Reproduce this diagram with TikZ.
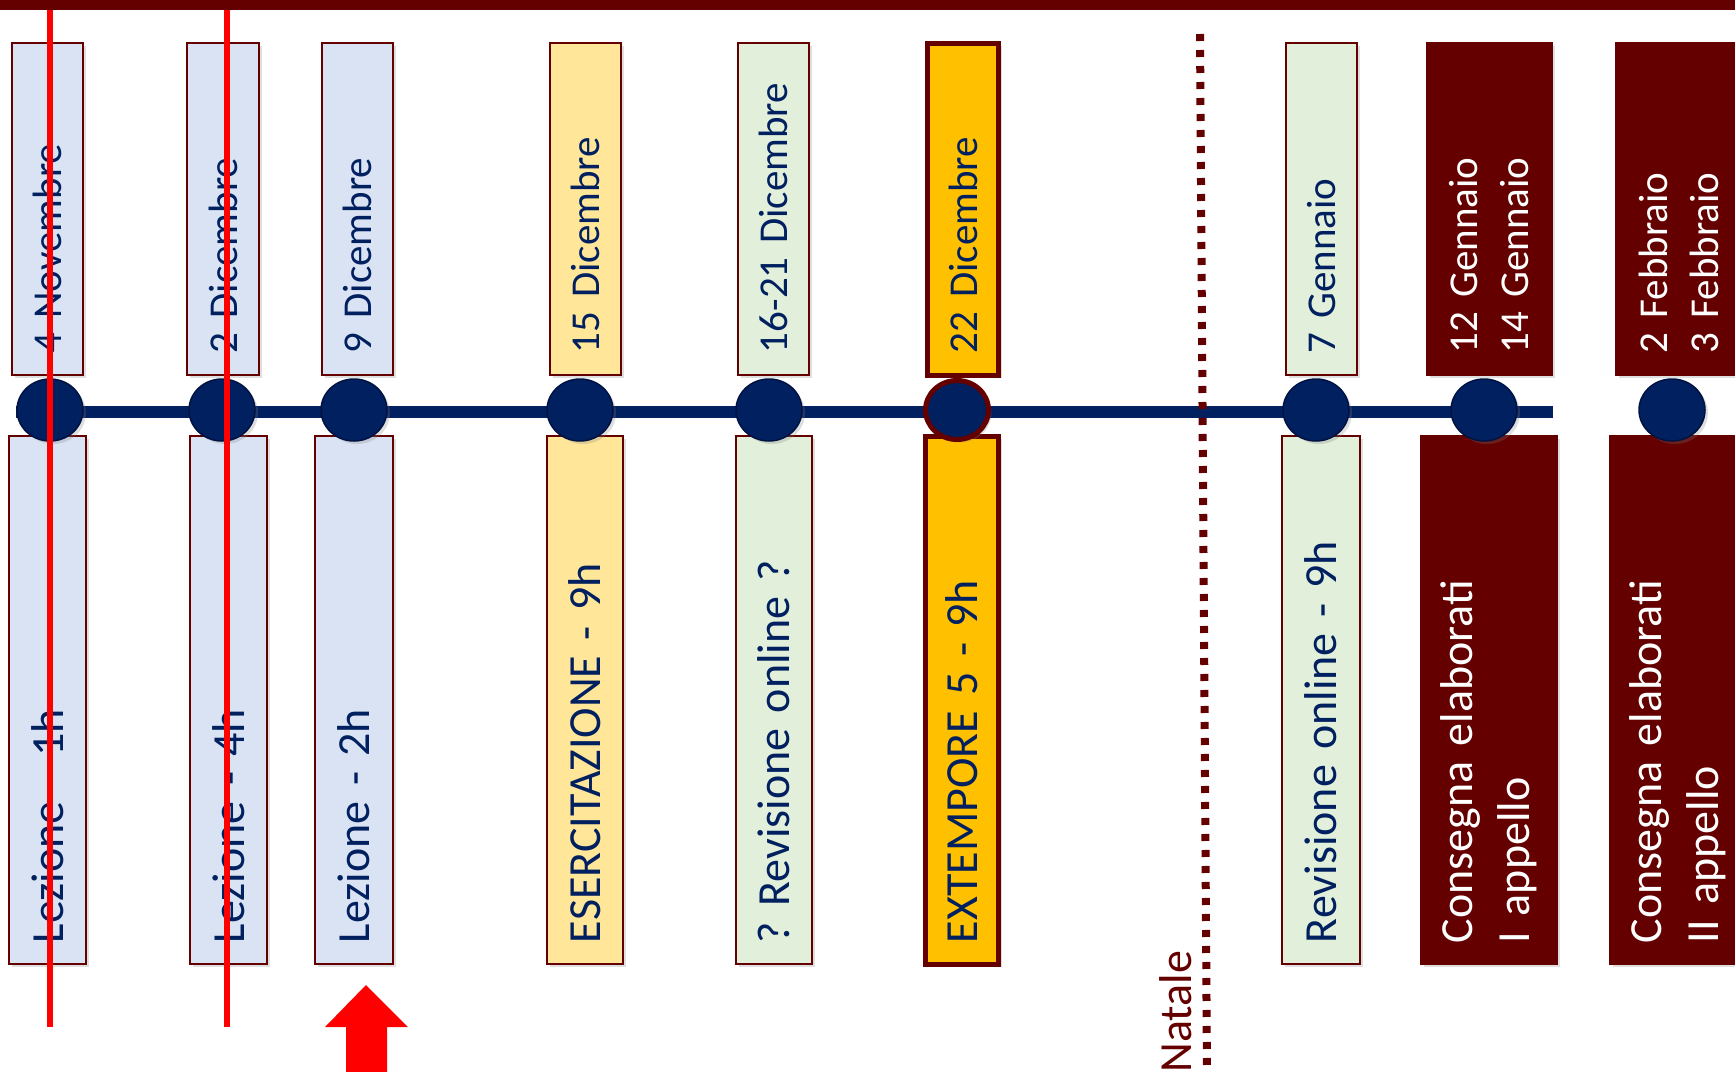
\documentclass[tikz,border=0pt]{standalone}
\usepackage{fontspec}
\setmainfont{Carlito}
\usepackage{tikz}
\usetikzlibrary{shapes.geometric,shadows,backgrounds}
\frenchspacing
\definecolor{dkred}{RGB}{100,0,0}
\definecolor{navy}{RGB}{0,32,96}
\definecolor{navydk}{RGB}{0,18,66}
\definecolor{boxblue}{RGB}{218,227,243}
\definecolor{boxyellow}{RGB}{255,230,153}
\definecolor{boxgreen}{RGB}{226,239,218}
\definecolor{boxorange}{RGB}{255,192,0}
\tikzset{
  daybox/.style  = {rotate=90, draw=dkred, line width=0.75pt, text=navy,
                    align=left, inner ysep=0pt,
                    drop shadow={opacity=0.25, shadow xshift=1.5pt, shadow yshift=-1.5pt}},
  topbox/.style  = {daybox, minimum width=166pt, text width=144pt, inner xsep=11pt,
                    font=\fontsize{20.5}{25.5}\selectfont},
  botbox/.style  = {daybox, minimum width=264pt, text width=243pt, inner xsep=10.5pt,
                    font=\fontsize{23}{28.5}\selectfont},
  sblue/.style   = {fill=boxblue},
  syellow/.style = {fill=boxyellow},
  sgreen/.style  = {fill=boxgreen},
  shot/.style    = {fill=boxorange, line width=2.5pt},
  sdark/.style   = {fill=dkred, text=white},
  evdot/.style   = {ellipse, fill=navy, draw=navydk, line width=0.75pt, inner sep=0pt,
                    minimum width=33pt, minimum height=31pt,
                    drop shadow={opacity=0.25, shadow xshift=1.5pt, shadow yshift=-1.5pt}},
  hotdot/.style  = {evdot, draw=dkred, line width=2.5pt,
                    minimum width=31.5pt, minimum height=29.5pt},
  tline/.style   = {navy, line width=6pt},
  redline/.style = {red, line width=3pt},
  natline/.style = {dkred, line width=4pt, dash pattern=on 3.5pt off 4.5pt},
}

\begin{document}
\begin{tikzpicture}[x=0.5pt, y=-0.5pt]
    \clip (0,0) rectangle (1735,1071);
    % -- top band -----------------------------------------------------
    \fill[dkred] (0,0) rectangle (1735,10);

    % -- dates (above the line) ---------------------------------------
    \foreach \x/\w/\st/\lbl [count=\i] in {47.5/35.5/sblue/4 Novembre,
            223/36/sblue/2 Dicembre, 357.5/35.5/sblue/9 Dicembre,
            585.5/35.5/syellow/15 Dicembre, 773.5/35.5/sgreen/16-21 Dicembre,
            963/35.5/shot/22 Dicembre, 1321.5/35.5/sgreen/7 Gennaio,
            1489.5/62.5/sdark/12 Gennaio\\14 Gennaio,
            1678.5/62.5/sdark/2 Febbraio\\3 Febbraio}{
        \node[topbox, \st, minimum height=\w pt] (top\i) at (\x,209) {\lbl};
    }

    % -- activities (below the line) ----------------------------------
    \foreach \x/\w/\st/\lbl [count=\i] in {47.5/38.5/sblue/Lezione - 1h,
            228.5/38.5/sblue/Lezione - 4h, 354/39/sblue/Lezione - 2h,
            585/38/syellow/ESERCITAZIONE - 9h, 774/38/sgreen/? Revisione online ?,
            962/36.5/shot/EXTEMPORE 5 - 9h, 1321/39/sgreen/Revisione online - 9h,
            1489/68/sdark/Consegna elaborati\\I appello,
            1678/68/sdark/Consegna elaborati\\II appello}{
        \node[botbox, \st, minimum height=\w pt] (bot\i) at (\x,700) {\lbl};
    }

    % -- timeline -------------------------------------------------------
    \foreach \x/\st [count=\i] in {50/evdot, 222/evdot, 354/evdot, 580/evdot,
            769/evdot, 957/hotdot, 1316/evdot, 1484/evdot, 1672/evdot}{
        \node[\st] (c\i) at (\x,410) {};
    }
    \coordinate (tlend) at (1553,412);
    \begin{pgfonlayer}{background}
        \draw[tline] (c1.west |- tlend) -- (tlend);
    \end{pgfonlayer}

    % -- cancelled lessons ----------------------------------------------
    \draw[redline] (50,10) -- (50,1027);
    \draw[redline] (227,10) -- (227,1027);

    % -- current week -----------------------------------------------------
    \fill[red] (366,985) -- (408,1027) -- (387,1027) -- (387,1075)
        -- (346,1075) -- (346,1027) -- (325,1027) -- cycle;

    % -- Natale -----------------------------------------------------------
    \draw[natline] (1200,34) -- (1207,1075);
    \node[rotate=90, anchor=base west, inner sep=0pt, text=dkred,
          font=\fontsize{23}{28}\selectfont] (natale) at (1191,1073) {Natale};
\end{tikzpicture}
\end{document}
